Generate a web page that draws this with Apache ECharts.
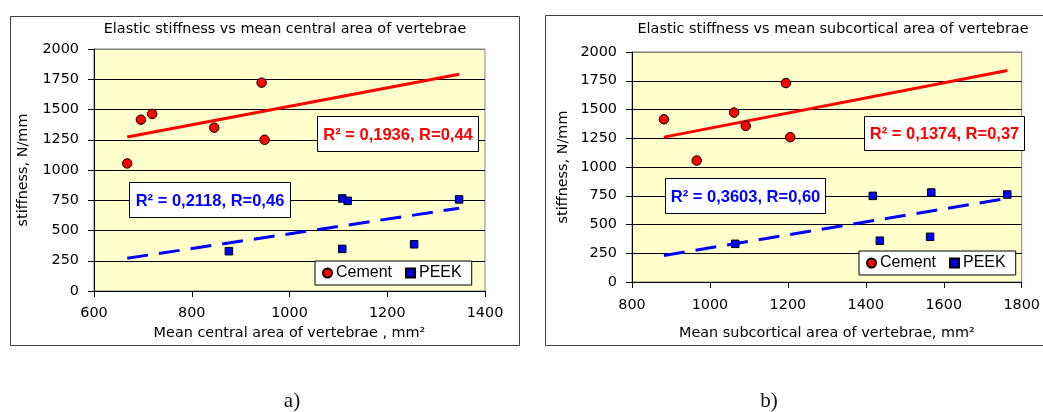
<!DOCTYPE html>
<html><head><meta charset="utf-8">
<script src="https://cdn.jsdelivr.net/npm/echarts@6/dist/echarts.min.js"></script>
<style>html,body{margin:0;padding:0;background:#fff}#c{width:1043px;height:412px}</style>
</head><body><div id="c"></div>
<script>
// ---------- DATA ----------
// Panel a) stiffness vs mean central area
const centralCementX = [668, 696, 719, 846, 943, 949];
const centralCementY = [1054, 1416, 1463, 1350, 1722, 1250];
const centralPeekX   = [876, 1108, 1108, 1119, 1255, 1347];
const centralPeekY   = [329, 348, 765, 745, 386, 757];
// Panel b) stiffness vs mean subcortical area
const subCementX = [882, 966, 1062, 1092, 1195, 1206];
const subCementY = [1415, 1056, 1473, 1357, 1730, 1259];
const subPeekX   = [1065, 1418, 1436, 1565, 1568, 1763];
const subPeekY   = [332, 749, 359, 393, 778, 761];

const seriesNames = ['Cement', 'PEEK'];
const titles = ['Elastic stiffness vs mean central area of vertebrae',
                'Elastic stiffness vs mean subcortical area of vertebrae'];
const xAxisNames = ['Mean central area of vertebrae , mm\u00B2',
                    'Mean subcortical area of vertebrae, mm\u00B2'];
const yAxisName = 'stiffness, N/mm';
const xMins = [600, 800];
const xMaxs = [1400, 1800];
const xStep = 200;
const yMin = 0, yMax = 2000, yStep = 250;
const fitLabelsCement = ['R\u00B2 = 0,1936, R=0,44', 'R\u00B2 = 0,1374, R=0,37'];
const fitLabelsPeek   = ['R\u00B2 = 0,2118, R=0,46', 'R\u00B2 = 0,3603, R=0,60'];
const captions = ['a)', 'b)'];

// ---------- HELPERS ----------
const zip = (xs, ys) => xs.map((x, i) => [x, ys[i]]);
function fitLine(xs, ys, x0, x1) {
  const n = xs.length;
  const mx = xs.reduce((a, b) => a + b, 0) / n;
  const my = ys.reduce((a, b) => a + b, 0) / n;
  let sxy = 0, sxx = 0;
  for (let i = 0; i < n; i++) { sxy += (xs[i] - mx) * (ys[i] - my); sxx += (xs[i] - mx) ** 2; }
  const k = sxy / sxx, b = my - k * mx;
  return [[x0, k * x0 + b], [x1, k * x1 + b]];
}

const panels = [
  { cx: centralCementX, cy: centralCementY, px: centralPeekX, py: centralPeekY },
  { cx: subCementX, cy: subCementY, px: subPeekX, py: subPeekY }
];

// ---------- LAYOUT / STYLE ----------
const FONT = 'DejaVu Sans';
const FONT2 = 'Liberation Sans';
const RED = '#FF0000', BLUE = '#0000FF';
const grids = [
  { left: 94, top: 49, width: 391, height: 242 },
  { left: 632, top: 52, width: 397, height: 230 }
];
const frames = [
  { x: 10.5, y: 16.5, w: 509, h: 329 },
  { x: 545.5, y: 15.5, w: 510, h: 330 }
];
const titlePos = [[285, 29], [833, 29]];
const labelMargins = [15, 16];
const xNameGaps = [35, 44];
const yNameGaps = [64, 62];
const legendPos = [{ left: 315, top: 261 }, { left: 859, top: 251 }];
const cementBox = [{ x: 317.5, y: 116.5, w: 161, h: 35 }, { x: 864.5, y: 116.5, w: 160, h: 34 }];
const peekBox   = [{ x: 129.5, y: 182.5, w: 161, h: 35 }, { x: 665.5, y: 178.5, w: 160, h: 35 }];
const captionPos = [[292, 401], [769, 401]];

const splitColors = [];
for (let v = yMin; v <= yMax; v += yStep) splitColors.push(v === yMax ? '#808080' : '#000');

const plain = v => String(v);

const option = {
  animation: false,
  backgroundColor: '#fff',
  grid: grids.map(g => Object.assign({ show: true, backgroundColor: '#FFFFCC', borderColor: '#808080', borderWidth: 1 }, g)),
  xAxis: panels.map((p, i) => ({
    gridIndex: i, type: 'value', min: xMins[i], max: xMaxs[i], interval: xStep,
    name: xAxisNames[i], nameLocation: 'middle', nameGap: xNameGaps[i],
    nameTextStyle: { fontFamily: FONT, fontSize: 14.4, color: '#000' },
    axisLine: { show: true, onZero: false, lineStyle: { color: '#000', width: 1 } },
    axisTick: { show: true, length: 6, lineStyle: { color: '#000' } },
    axisLabel: { fontFamily: FONT, fontSize: 14.4, color: '#000', margin: labelMargins[i], formatter: plain, showMinLabel: true, showMaxLabel: true },
    splitLine: { show: false }
  })),
  yAxis: panels.map((p, i) => ({
    gridIndex: i, type: 'value', min: yMin, max: yMax, interval: yStep,
    name: yAxisName, nameLocation: 'middle', nameGap: yNameGaps[i], nameRotate: 90,
    nameTextStyle: { fontFamily: FONT, fontSize: 14.4, color: '#000' },
    axisLine: { show: true, onZero: false, lineStyle: { color: '#000', width: 1 } },
    axisTick: { show: true, length: 6, lineStyle: { color: '#000' } },
    axisLabel: { fontFamily: FONT, fontSize: 14.4, color: '#000', margin: 15, formatter: plain },
    splitLine: { show: true, lineStyle: { color: splitColors, width: 1 } }
  })),
  legend: legendPos.map(lp => ({
    left: lp.left, top: lp.top, orient: 'horizontal',
    data: [{ name: seriesNames[0], icon: 'circle' }, { name: seriesNames[1], icon: 'rect' }],
    itemWidth: 9, itemHeight: 9, itemGap: 13,
    padding: [4, 10, 4, 7],
    backgroundColor: '#fff', borderColor: '#000', borderWidth: 1, borderRadius: 0,
    selectedMode: false,
    textStyle: { fontFamily: FONT2, fontSize: 16, color: '#000', padding: [0, 0, 0, -1] }
  })),
  series: [],
  graphic: []
};

panels.forEach((p, i) => {
  const allX = p.cx.concat(p.px);
  const x0 = Math.min(...allX), x1 = Math.max(...allX);
  option.series.push({
    name: 'Cement trend', type: 'line', xAxisIndex: i, yAxisIndex: i,
    data: fitLine(p.cx, p.cy, x0, x1), showSymbol: false, symbol: 'none', silent: true,
    lineStyle: { color: RED, width: 3 }, z: 2
  });
  option.series.push({
    name: 'PEEK trend', type: 'line', xAxisIndex: i, yAxisIndex: i,
    data: fitLine(p.px, p.py, x0, x1), showSymbol: false, symbol: 'none', silent: true,
    lineStyle: { color: BLUE, width: 3, type: [21, 11] }, z: 2
  });
  option.series.push({
    name: seriesNames[0], type: 'scatter', xAxisIndex: i, yAxisIndex: i,
    data: zip(p.cx, p.cy), symbol: 'circle', symbolSize: 9.5, silent: true,
    itemStyle: { color: RED, borderColor: '#000', borderWidth: 1, opacity: 1 }, z: 3
  });
  option.series.push({
    name: seriesNames[1], type: 'scatter', xAxisIndex: i, yAxisIndex: i,
    data: zip(p.px, p.py), symbol: 'rect', symbolSize: 7.5, silent: true,
    itemStyle: { color: BLUE, borderColor: '#000', borderWidth: 1, opacity: 1 }, z: 3
  });

  const f = frames[i];
  option.graphic.push({ type: 'rect', z: -10, silent: true,
    shape: { x: f.x, y: f.y, width: f.w, height: f.h },
    style: { fill: 'none', stroke: '#404040', lineWidth: 1 } });
  option.graphic.push({ type: 'text', silent: true, x: titlePos[i][0], y: titlePos[i][1],
    style: { text: titles[i], align: 'center', verticalAlign: 'middle', fill: '#000',
             fontFamily: FONT, fontSize: 14.4 } });
  [[cementBox[i], fitLabelsCement[i], RED], [peekBox[i], fitLabelsPeek[i], BLUE]].forEach(([b, t, c]) => {
    option.graphic.push({ type: 'rect', silent: true, z: 50,
      shape: { x: b.x, y: b.y, width: b.w, height: b.h },
      style: { fill: '#fff', stroke: '#000', lineWidth: 1 } });
    option.graphic.push({ type: 'text', silent: true, z: 51, x: b.x + b.w / 2, y: b.y + b.h / 2 + 1,
      style: { text: t, align: 'center', verticalAlign: 'middle', fill: c,
               fontFamily: FONT2, fontWeight: 'bold', fontSize: 16.5 } });
  });
  option.graphic.push({ type: 'text', silent: true, x: captionPos[i][0], y: captionPos[i][1],
    style: { text: captions[i], align: 'center', verticalAlign: 'middle', fill: '#111',
             fontFamily: 'Liberation Serif', fontSize: 21 } });
});

const chart = echarts.init(document.getElementById('c'), null, { renderer: 'canvas' });
chart.setOption(option);
</script>
</body></html>
